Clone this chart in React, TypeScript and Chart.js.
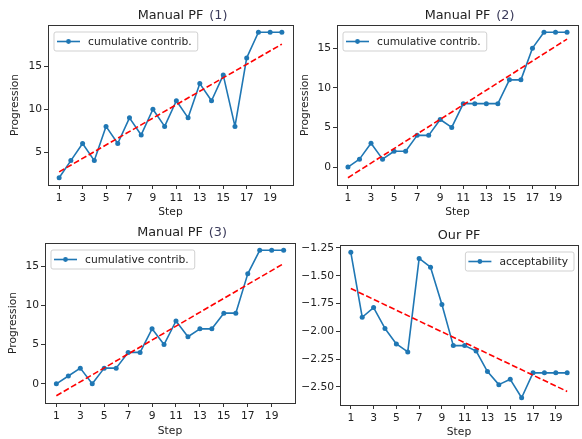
import React, { useEffect, useRef } from "react";
import { Chart, registerables } from "chart.js";

Chart.register(...registerables);

// ---------- data ----------
const steps = [1, 2, 3, 4, 5, 6, 7, 8, 9, 10, 11, 12, 13, 14, 15, 16, 17, 18, 19, 20];
const xTickValues = [1, 3, 5, 7, 9, 11, 13, 15, 17, 19];
const xTickLabels = ["1", "3", "5", "7", "9", "11", "13", "15", "17", "19"];

const pf1Values = [2, 4, 6, 4, 8, 6, 9, 7, 10, 8, 11, 9, 13, 11, 14, 8, 16, 19, 19, 19];
const pf2Values = [0, 1, 3, 1, 2, 2, 4, 4, 6, 5, 8, 8, 8, 8, 11, 11, 15, 17, 17, 17];
const pf3Values = [0, 1, 2, 0, 2, 2, 4, 4, 7, 5, 8, 6, 7, 7, 9, 9, 14, 17, 17, 17];
const ourValues = [-1.289, -1.873, -1.786, -1.974, -2.113, -2.185, -1.344, -1.423, -1.758, -2.128,
  -2.128, -2.176, -2.361, -2.479, -2.431, -2.597, -2.373, -2.373, -2.373, -2.373];

// trend line values at step 1 and step 20
const trendSteps = [1, 20];
const trend1 = [2.686, 17.61];
const trend2 = [-1.343, 16.14];
const trend3 = [-1.514, 15.31];
const trend4 = [-1.615, -2.54];

const yTicks1 = [5, 10, 15];
const yTickLabels1 = ["5", "10", "15"];
const yTicks23 = [0, 5, 10, 15];
const yTickLabels23 = ["0", "5", "10", "15"];
const yTicks4 = [-1.25, -1.5, -1.75, -2.0, -2.25, -2.5];
const yTickLabels4 = ["\u22121.25", "\u22121.50", "\u22121.75", "\u22122.00", "\u22122.25", "\u22122.50"];

const yRange1 = [1.15, 19.85];
const yRange2 = [-2.26, 17.92];
const yRange3 = [-2.44, 17.93];
const yRange4 = [-2.662, -1.2236];
const xRange = [0.05, 20.95];

const titles = ["Manual PF", "Manual PF", "Manual PF", "Our PF"];
const titleTags = ["(1)", "(2)", "(3)", ""];
const seriesLabels = ["cumulative contrib.", "cumulative contrib.", "cumulative contrib.", "acceptability"];
const xTitle = "Step";
const yTitle = "Progression";

// ---------- layout ----------
const W = 582;
const H = 439;
const FONT = "'DejaVu Sans', 'Liberation Sans', sans-serif";
const FS = 10.7;
const TFS = 12.8;
const BLUE = "#1f77b4";
const TEXT = "#222222";
const FRAME = "#333333";

type Panel = {
  values: number[];
  trend: number[];
  yTicks: number[];
  yLabels: string[];
  yRange: number[];
  title: string;
  tag: string;
  label: string;
  rect: { l: number; t: number; r: number; b: number };
  yTitleX: number | null;
  xTitleY: number;
  titleY: number;
  legendSide: "left" | "right";
};

const panels: Panel[] = [
  { values: pf1Values, trend: trend1, yTicks: yTicks1, yLabels: yTickLabels1, yRange: yRange1,
    title: titles[0], tag: titleTags[0], label: seriesLabels[0],
    rect: { l: 48, t: 25, r: 293, b: 185 }, yTitleX: 15, xTitleY: 212, titleY: 15.5, legendSide: "left" },
  { values: pf2Values, trend: trend2, yTicks: yTicks23, yLabels: yTickLabels23, yRange: yRange2,
    title: titles[1], tag: titleTags[1], label: seriesLabels[1],
    rect: { l: 337, t: 25, r: 582, b: 185 }, yTitleX: 305, xTitleY: 212, titleY: 15.5, legendSide: "left" },
  { values: pf3Values, trend: trend3, yTicks: yTicks23, yLabels: yTickLabels23, yRange: yRange3,
    title: titles[2], tag: titleTags[2], label: seriesLabels[2],
    rect: { l: 45, t: 243, r: 295, b: 403 }, yTitleX: 13, xTitleY: 431, titleY: 233, legendSide: "left" },
  { values: ourValues, trend: trend4, yTicks: yTicks4, yLabels: yTickLabels4, yRange: yRange4,
    title: titles[3], tag: titleTags[3], label: seriesLabels[3],
    rect: { l: 340, t: 245, r: 582, b: 405 }, yTitleX: null, xTitleY: 433, titleY: 235.5, legendSide: "right" },
];

const decorPlugin = {
  id: "decor",
  afterDraw(chart: any, _args: any, opts: any) {
    const { ctx, chartArea: a } = chart;
    ctx.save();
    // frame
    ctx.strokeStyle = FRAME;
    ctx.lineWidth = 1;
    ctx.strokeRect(a.left + 0.5, a.top + 0.5, a.right - a.left, a.bottom - a.top);

    // title
    ctx.fillStyle = TEXT;
    ctx.font = `${TFS}px ${FONT}`;
    ctx.textBaseline = "middle";
    ctx.textAlign = "center";
    const cx = (a.left + a.right) / 2;
    ctx.fillText(opts.title, cx, opts.titleY);
    if (opts.tag) {
      const tw = ctx.measureText(opts.title).width;
      ctx.textAlign = "left";
      ctx.fillStyle = "#3a3a5a";
      ctx.fillText(opts.tag, cx + tw / 2 + 6, opts.titleY);
    }

    // legend
    ctx.font = `${FS}px ${FONT}`;
    const textW = ctx.measureText(opts.label).width;
    const bw = 34 + textW + 6;
    const bh = 19;
    const bx = opts.legendSide === "left" ? a.left + 6 : a.right - 4 - bw;
    const by = a.top + 7;
    ctx.beginPath();
    const rr = 2;
    ctx.moveTo(bx + rr, by);
    ctx.lineTo(bx + bw - rr, by);
    ctx.quadraticCurveTo(bx + bw, by, bx + bw, by + rr);
    ctx.lineTo(bx + bw, by + bh - rr);
    ctx.quadraticCurveTo(bx + bw, by + bh, bx + bw - rr, by + bh);
    ctx.lineTo(bx + rr, by + bh);
    ctx.quadraticCurveTo(bx, by + bh, bx, by + bh - rr);
    ctx.lineTo(bx, by + rr);
    ctx.quadraticCurveTo(bx, by, bx + rr, by);
    ctx.closePath();
    ctx.fillStyle = "rgba(255,255,255,0.8)";
    ctx.fill();
    ctx.strokeStyle = "rgba(204,204,204,0.9)";
    ctx.lineWidth = 1;
    ctx.stroke();
    const ly = by + bh / 2;
    ctx.strokeStyle = BLUE;
    ctx.lineWidth = 1.6;
    ctx.beginPath();
    ctx.moveTo(bx + 3, ly);
    ctx.lineTo(bx + 26, ly);
    ctx.stroke();
    ctx.fillStyle = BLUE;
    ctx.beginPath();
    ctx.arc(bx + 14.5, ly, 2.4, 0, Math.PI * 2);
    ctx.fill();
    ctx.fillStyle = TEXT;
    ctx.textAlign = "left";
    ctx.textBaseline = "middle";
    ctx.fillText(opts.label, bx + 34, ly + 0.5);
    ctx.restore();
  },
};

function PanelChart({ p }: { p: Panel }) {
  const ref = useRef<HTMLCanvasElement | null>(null);
  useEffect(() => {
    if (!ref.current) return;
    const lh = FS * 1.2;
    const padLeft = p.yTitleX !== null ? p.yTitleX - lh / 2 : p.rect.l - 50;
    const yWidth = p.rect.l - padLeft;
    const padBottom = Math.max(0, H - p.xTitleY - lh / 2);
    const xHeight = H - padBottom - p.rect.b;
    const chart = new Chart(ref.current, {
      type: "line",
      data: {
        datasets: [
          {
            label: p.label,
            data: steps.map((s, i) => ({ x: s, y: p.values[i] })),
            borderColor: BLUE,
            backgroundColor: BLUE,
            borderWidth: 1.6,
            pointRadius: 2.5,
            pointBorderWidth: 0,
            pointBackgroundColor: BLUE,
            borderJoinStyle: "round",
            tension: 0,
            order: 2,
          },
          {
            label: "trend",
            data: trendSteps.map((s, i) => ({ x: s, y: p.trend[i] })),
            borderColor: "#ff0000",
            borderWidth: 1.6,
            borderDash: [5.9, 2.6],
            pointRadius: 0,
            tension: 0,
            order: 1,
          },
        ],
      },
      options: {
        animation: false,
        responsive: false,
        devicePixelRatio: 1,
        events: [],
        layout: { padding: { left: padLeft, top: p.rect.t, right: W - p.rect.r, bottom: padBottom } },
        plugins: {
          legend: { display: false },
          title: { display: false },
          tooltip: { enabled: false },
          decor: { title: p.title, tag: p.tag, label: p.label, titleY: p.titleY, legendSide: p.legendSide },
        } as any,
        scales: {
          x: {
            type: "linear",
            min: xRange[0],
            max: xRange[1],
            afterBuildTicks: (axis: any) => {
              axis.ticks = xTickValues.map((v) => ({ value: v }));
            },
            afterFit: (s: any) => {
              s.height = xHeight;
            },
            ticks: {
              autoSkip: false,
              maxRotation: 0,
              padding: 3,
              color: TEXT,
              font: { family: FONT, size: FS },
              callback: (_v: any, i: number) => xTickLabels[i],
            },
            grid: { drawOnChartArea: false, drawTicks: true, tickLength: 4, color: FRAME },
            border: { display: false },
            title: { display: true, text: xTitle, color: TEXT, padding: 0, font: { family: FONT, size: FS } },
          },
          y: {
            type: "linear",
            min: p.yRange[0],
            max: p.yRange[1],
            afterBuildTicks: (axis: any) => {
              axis.ticks = p.yTicks.map((v) => ({ value: v }));
            },
            afterFit: (s: any) => {
              s.width = yWidth;
            },
            ticks: {
              autoSkip: false,
              padding: 2,
              color: TEXT,
              font: { family: FONT, size: FS },
              callback: (_v: any, i: number) => p.yLabels[i],
            },
            grid: { drawOnChartArea: false, drawTicks: true, tickLength: 4, color: FRAME },
            border: { display: false },
            title: {
              display: p.yTitleX !== null,
              text: yTitle,
              color: TEXT,
              padding: 0,
              font: { family: FONT, size: FS },
            },
          },
        },
      } as any,
      plugins: [decorPlugin as any],
    });
    return () => chart.destroy();
  }, [p]);
  return (
    <canvas
      ref={ref}
      width={W}
      height={H}
      style={{ position: "absolute", left: 0, top: 0, width: W, height: H, display: "block" }}
    />
  );
}

export default function App() {
  return (
    <div style={{ position: "fixed", left: 0, top: 0, width: W, height: H, background: "#fff", overflow: "hidden" }}>
      {panels.map((p, i) => (
        <PanelChart key={i} p={p} />
      ))}
    </div>
  );
}
